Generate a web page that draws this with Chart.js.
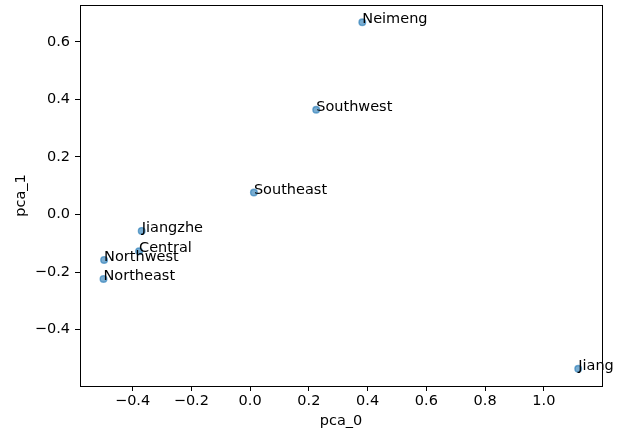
<!DOCTYPE html>
<html lang="en">
<head>
  <meta charset="UTF-8" />
  <title>PCA scatter</title>
  <script src="https://cdn.jsdelivr.net/npm/chart.js"></script>
  <style>
    body { margin: 0; background: #fff; }
    #wrap { width: 625px; height: 430px; }
  </style>
</head>
<body>
  <div id="wrap"><canvas id="pcaChart" width="625" height="430"></canvas></div>

  <script>
    const regions = ['Neimeng', 'Southwest', 'Southeast', 'Jiangzhe', 'Central', 'Northwest', 'Northeast', 'Jiang'];
    const pca0 = [0.382, 0.225, 0.013, -0.369, -0.378, -0.497, -0.499, 1.117];
    const pca1 = [0.668, 0.364, 0.076, -0.057, -0.128, -0.158, -0.224, -0.536];
    const xTicks = [-0.4, -0.2, 0.0, 0.2, 0.4, 0.6, 0.8, 1.0];
    const yTicks = [-0.4, -0.2, 0.0, 0.2, 0.4, 0.6];

    const FONT = 'DejaVu Sans';
    const SIZE = 14.5;
    const fmt = v => (v < 0 ? '\u2212' : '') + Math.abs(v).toFixed(1);

    // point labels, baseline-left anchored at the point like plt.text
    const pointLabels = {
      id: 'pointLabels',
      afterDatasetsDraw(chart) {
        const ctx = chart.ctx;
        const meta = chart.getDatasetMeta(0);
        ctx.save();
        ctx.font = SIZE + 'px "' + FONT + '"';
        ctx.fillStyle = '#000';
        ctx.textAlign = 'left';
        ctx.textBaseline = 'alphabetic';
        meta.data.forEach((pt, i) => ctx.fillText(regions[i], pt.x, pt.y + 1));
        ctx.restore();
      }
    };

    // all four spines
    const frame = {
      id: 'frame',
      afterDraw(chart) {
        const { left, top, right, bottom } = chart.chartArea;
        const ctx = chart.ctx;
        ctx.save();
        ctx.strokeStyle = '#000';
        ctx.lineWidth = 1;
        ctx.strokeRect(Math.round(left) + 0.5, Math.round(top) + 0.5, Math.round(right - left), Math.round(bottom - top));
        ctx.restore();
      }
    };

    new Chart(document.getElementById('pcaChart'), {
      type: 'scatter',
      data: {
        datasets: [{
          data: pca0.map((x, i) => ({ x: x, y: pca1[i] })),
          backgroundColor: 'rgba(31, 119, 180, 0.6)',
          borderColor: 'rgba(31, 119, 180, 0.6)',
          borderWidth: 1.4,
          pointRadius: 3.3,
          pointHoverRadius: 3.3
        }]
      },
      options: {
        responsive: false,
        animation: false,
        events: [],
        layout: { padding: { top: 5, right: 23, left: 0, bottom: 0 } },
        plugins: { legend: { display: false }, tooltip: { enabled: false } },
        scales: {
          x: {
            type: 'linear',
            min: -0.579,
            max: 1.198,
            afterBuildTicks: s => { s.ticks = xTicks.map(v => ({ value: v })); },
            afterFit: s => { s.height = 44; s.paddingLeft = 0; s.paddingRight = 0; },
            grid: { drawOnChartArea: false, drawTicks: true, tickLength: 5, color: '#000', lineWidth: 1 },
            border: { display: false },
            ticks: { color: '#000', font: { family: FONT, size: SIZE }, padding: 2, maxRotation: 0, callback: v => fmt(v) },
            title: { display: true, text: 'pca_0', color: '#000', font: { family: FONT, size: SIZE }, padding: { top: 0, bottom: 0 } }
          },
          y: {
            type: 'linear',
            min: -0.596,
            max: 0.728,
            afterBuildTicks: s => { s.ticks = yTicks.map(v => ({ value: v })); },
            afterFit: s => { s.width = 80; s.paddingTop = 0; s.paddingBottom = 0; },
            grid: { drawOnChartArea: false, drawTicks: true, tickLength: 5, color: '#000', lineWidth: 1 },
            border: { display: false },
            ticks: { color: '#000', font: { family: FONT, size: SIZE }, padding: 5, callback: v => fmt(v) },
            title: { display: true, text: 'pca_1', color: '#000', font: { family: FONT, size: SIZE }, padding: { top: 13, bottom: 0 } }
          }
        }
      },
      plugins: [pointLabels, frame]
    });
  </script>
</body>
</html>
